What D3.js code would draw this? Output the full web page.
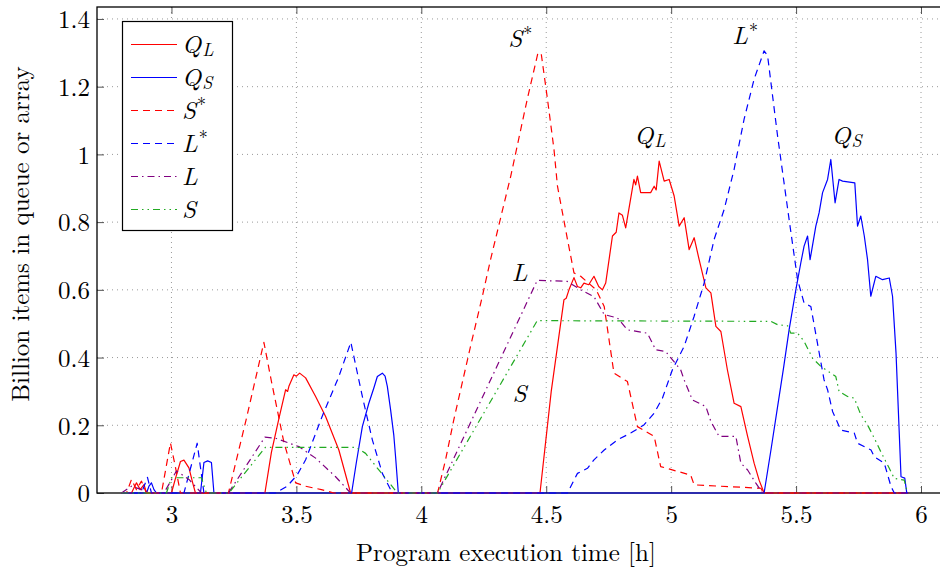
<!DOCTYPE html>
<html><head><meta charset="utf-8">
<script src="https://cdn.jsdelivr.net/npm/d3@7"></script>
</head><body style="margin:0;background:#fff">
<svg id="c" width="940" height="567" style="display:block"></svg>
<script>
// ---------------- data ----------------
const xTicks = [3, 3.5, 4, 4.5, 5, 5.5, 6];
const xTickLabels = ["3", "3.5", "4", "4.5", "5", "5.5", "6"];
const yTicks = [0, 0.2, 0.4, 0.6, 0.8, 1, 1.2, 1.4];
const yTickLabels = ["0", "0.2", "0.4", "0.6", "0.8", "1", "1.2", "1.4"];
const seriesKeys = ["QL", "QS", "Sstar", "Lstar", "L", "S"];

const QL = [[2.80,0],[2.84,0],[2.86,0.03],[2.875,0.01],[2.89,0.025],[2.90,0],[3.00,0],[3.015,0.04],[3.036,0.093],[3.05,0.097],[3.07,0.074],[3.085,0.03],[3.096,0],[3.374,0],[3.40,0.12],[3.43,0.22],[3.457,0.305],[3.465,0.30],[3.47,0.315],[3.49,0.349],[3.50,0.345],[3.513,0.354],[3.537,0.34],[3.577,0.285],[3.617,0.226],[3.67,0.127],[3.717,0],[4.475,0],[4.52,0.30],[4.571,0.571],[4.58,0.575],[4.591,0.60],[4.611,0.636],[4.625,0.61],[4.638,0.606],[4.651,0.62],[4.67,0.615],[4.691,0.64],[4.71,0.61],[4.725,0.60],[4.738,0.62],[4.765,0.759],[4.78,0.77],[4.791,0.827],[4.805,0.82],[4.818,0.783],[4.851,0.926],[4.858,0.91],[4.865,0.936],[4.878,0.887],[4.918,0.887],[4.932,0.906],[4.94,0.895],[4.952,0.98],[4.972,0.921],[4.992,0.926],[5.012,0.877],[5.032,0.788],[5.052,0.813],[5.072,0.719],[5.092,0.754],[5.112,0.689],[5.139,0.606],[5.159,0.591],[5.179,0.492],[5.199,0.477],[5.225,0.364],[5.252,0.265],[5.279,0.255],[5.306,0.167],[5.332,0.088],[5.352,0.038],[5.372,0],[5.95,0]];

const QS = [[2.80,0],[2.90,0],[2.91,0.02],[2.92,0.03],[2.93,0.01],[2.94,0],[3.116,0],[3.13,0.09],[3.145,0.095],[3.16,0.09],[3.17,0],[3.721,0],[3.74,0.09],[3.764,0.196],[3.79,0.265],[3.81,0.31],[3.824,0.344],[3.844,0.354],[3.855,0.345],[3.864,0.315],[3.877,0.246],[3.89,0.17],[3.897,0.107],[3.908,0],[5.372,0],[5.40,0.13],[5.426,0.255],[5.45,0.37],[5.472,0.482],[5.499,0.60],[5.519,0.68],[5.532,0.729],[5.546,0.759],[5.556,0.689],[5.579,0.788],[5.592,0.827],[5.606,0.887],[5.626,0.926],[5.639,0.985],[5.656,0.857],[5.672,0.926],[5.686,0.921],[5.735,0.916],[5.746,0.788],[5.759,0.818],[5.773,0.759],[5.786,0.689],[5.799,0.581],[5.819,0.64],[5.846,0.63],[5.873,0.635],[5.886,0.581],[5.90,0.413],[5.92,0.048],[5.935,0.044],[5.943,0]];

const Sstar = [[2.80,0],[2.82,0],[2.84,0.04],[2.86,0.01],[2.88,0.035],[2.90,0],[2.96,0],[2.996,0.148],[3.015,0.08],[3.036,0],[3.228,0],[3.30,0.22],[3.37,0.445],[3.40,0.33],[3.45,0.15],[3.497,0.03],[3.537,0.02],[3.60,0.01],[3.65,0],[4.065,0],[4.097,0.098],[4.13,0.216],[4.197,0.433],[4.244,0.58],[4.277,0.689],[4.358,0.936],[4.424,1.163],[4.467,1.30],[4.48,1.297],[4.505,1.163],[4.531,1.015],[4.545,0.906],[4.585,0.749],[4.611,0.65],[4.638,0.64],[4.70,0.60],[4.732,0.551],[4.771,0.354],[4.825,0.329],[4.865,0.196],[4.932,0.167],[4.958,0.078],[5.078,0.053],[5.092,0.024],[5.359,0.014],[5.37,0],[5.95,0]];

const Lstar = [[2.80,0],[2.88,0],[2.904,0.046],[2.92,0],[3.05,0],[3.103,0.147],[3.13,0],[3.416,0],[3.463,0.02],[3.503,0.053],[3.537,0.098],[3.603,0.226],[3.67,0.344],[3.718,0.445],[3.764,0.285],[3.804,0.157],[3.844,0.058],[3.884,0],[4.585,0],[4.625,0.058],[4.665,0.073],[4.691,0.098],[4.732,0.127],[4.785,0.157],[4.838,0.177],[4.891,0.201],[4.932,0.236],[4.965,0.28],[5.005,0.364],[5.052,0.433],[5.092,0.522],[5.132,0.62],[5.172,0.749],[5.212,0.837],[5.252,0.956],[5.292,1.104],[5.332,1.222],[5.372,1.306],[5.386,1.291],[5.426,1.054],[5.472,0.808],[5.506,0.63],[5.532,0.561],[5.559,0.551],[5.612,0.334],[5.626,0.305],[5.646,0.241],[5.679,0.186],[5.733,0.177],[5.746,0.147],[5.80,0.127],[5.813,0.107],[5.853,0.088],[5.88,0.019],[5.893,0],[5.95,0]];

const L = [[2.80,0],[2.84,0.02],[2.88,0.01],[2.92,0],[2.97,0],[3.02,0.065],[3.07,0.04],[3.12,0],[3.228,0],[3.374,0.165],[3.416,0.162],[3.51,0.137],[3.577,0.103],[3.657,0.048],[3.717,0],[4.065,0],[4.464,0.628],[4.584,0.625],[4.638,0.60],[4.691,0.58],[4.732,0.527],[4.785,0.517],[4.825,0.482],[4.905,0.472],[4.938,0.423],[4.978,0.418],[5.038,0.364],[5.052,0.334],[5.085,0.275],[5.139,0.255],[5.159,0.211],[5.192,0.167],[5.259,0.167],[5.279,0.088],[5.306,0.068],[5.339,0.029],[5.366,0],[5.95,0]];

const S = [[2.80,0],[2.98,0],[3.00,0.045],[3.12,0.045],[3.14,0],[3.23,0],[3.376,0.135],[3.737,0.135],[3.777,0.117],[3.83,0.068],[3.884,0.019],[3.904,0],[4.065,0],[4.464,0.509],[5.359,0.507],[5.399,0.507],[5.426,0.497],[5.466,0.494],[5.479,0.472],[5.506,0.472],[5.532,0.448],[5.566,0.398],[5.599,0.374],[5.659,0.344],[5.672,0.30],[5.706,0.285],[5.733,0.28],[5.759,0.231],[5.786,0.201],[5.813,0.162],[5.839,0.122],[5.873,0.073],[5.893,0.043],[5.933,0.038],[5.946,0]];

// ---------------- layout & styles ----------------
const FONT = '"Latin Modern Roman", "CMU Serif", "Liberation Serif", serif';
const W = 940, H = 567;
const M = {left: 97, top: 7, right: 941, bottom: 493};
const x = d3.scaleLinear().domain([2.702, 6.08]).range([M.left, M.right]);
const y = d3.scaleLinear().domain([0, 1.4353]).range([M.bottom, M.top]);

const styles = {
  QL:    {color: "#ff0000", dash: null,              label: ["Q", "L", "sub"]},
  QS:    {color: "#0000ff", dash: null,              label: ["Q", "S", "sub"]},
  Sstar: {color: "#ff0000", dash: "7,5",             label: ["S", "*", "sup"]},
  Lstar: {color: "#0000ff", dash: "7,5",             label: ["L", "*", "sup"]},
  L:     {color: "#800080", dash: "7,4,1.5,4",       label: ["L", null, null]},
  S:     {color: "#22aa22", dash: "7,4,1.5,4,1.5,4", label: ["S", null, null]}
};
const dataByKey = {QL, QS, Sstar, Lstar, L, S};

const svg = d3.select("#c");
svg.append("rect").attr("width", W).attr("height", H).attr("fill", "#fff");

// grid
const grid = svg.append("g");
grid.selectAll("line.gx").data(xTicks).join("line")
  .attr("x1", d => x(d)).attr("x2", d => x(d))
  .attr("y1", M.top).attr("y2", M.bottom)
  .attr("stroke", "#9a9a9a").attr("stroke-width", 1).attr("stroke-dasharray", "1,4");
grid.selectAll("line.gy").data(yTicks.filter(d => d > 0)).join("line")
  .attr("x1", M.left).attr("x2", M.right)
  .attr("y1", d => y(d)).attr("y2", d => y(d))
  .attr("stroke", "#9a9a9a").attr("stroke-width", 1).attr("stroke-dasharray", "1,4");

// axes (ticks inward)
const fontTick = 25;
const xAxisB = d3.axisBottom(x).tickValues(xTicks).tickFormat((d, i) => xTickLabels[i])
  .tickSizeInner(-7).tickSizeOuter(0).tickPadding(12);
const gxb = svg.append("g").attr("transform", `translate(0,${M.bottom})`).call(xAxisB);
const xAxisT = d3.axisTop(x).tickValues(xTicks).tickFormat("").tickSizeInner(-7).tickSizeOuter(0);
const gxt = svg.append("g").attr("transform", `translate(0,${M.top})`).call(xAxisT);
const yAxisL = d3.axisLeft(y).tickValues(yTicks).tickFormat((d, i) => yTickLabels[i])
  .tickSizeInner(-7).tickSizeOuter(0).tickPadding(7);
const gyl = svg.append("g").attr("transform", `translate(${M.left},0)`).call(yAxisL);
[gxb, gxt, gyl].forEach(g => {
  g.select(".domain").remove();
  g.selectAll(".tick line").attr("stroke", "#555").attr("stroke-width", 1);
  g.selectAll(".tick text").style("font-family", FONT)
    .style("font-size", fontTick + "px").attr("fill", "#000");
});
gyl.selectAll(".tick text").attr("dy", "0.35em");

// frame
svg.append("rect").attr("x", M.left).attr("y", M.top)
  .attr("width", M.right - M.left).attr("height", M.bottom - M.top)
  .attr("fill", "none").attr("stroke", "#000").attr("stroke-width", 1.3);

// clip
svg.append("clipPath").attr("id", "clip").append("rect")
  .attr("x", M.left).attr("y", M.top - 2).attr("width", M.right - M.left).attr("height", M.bottom - M.top + 4);

const line = d3.line().x(d => x(d[0])).y(d => y(d[1]));
const plots = svg.append("g").attr("clip-path", "url(#clip)");
seriesKeys.forEach(k => {
  const st = styles[k];
  plots.append("path").datum(dataByKey[k])
    .attr("d", line).attr("fill", "none")
    .attr("stroke", st.color).attr("stroke-width", 1.2)
    .attr("stroke-linejoin", "round")
    .attr("stroke-dasharray", st.dash);
});

// math label helper
function mathText(g, px, py, base, extra, kind, size, anchor) {
  const t = g.append("text").attr("x", px).attr("y", py)
    .style("font-family", FONT).style("font-size", size + "px")
    .attr("text-anchor", anchor || "start").attr("fill", "#000");
  t.append("tspan").style("font-style", "italic").text(base);
  if (extra) {
    if (kind === "sub") {
      t.append("tspan").style("font-style", "italic").style("font-size", (size * 0.72) + "px")
        .attr("dx", 1).attr("dy", size * 0.15).text(extra);
    } else {
      t.append("tspan").style("font-size", (size * 0.72) + "px").attr("dx", 1).attr("dy", -size * 0.3).text(extra);
    }
  }
  return t;
}

// in-plot labels
const annots = [
  {k: "Sstar", xv: 4.396, yv: 1.317},
  {k: "Lstar", xv: 5.296, yv: 1.325},
  {k: "QL",    xv: 4.915, yv: 1.032},
  {k: "QS",    xv: 5.702, yv: 1.032},
  {k: "L",     xv: 4.393, yv: 0.625},
  {k: "S",     xv: 4.393, yv: 0.27}
];
annots.forEach(a => {
  const st = styles[a.k];
  mathText(svg, x(a.xv), y(a.yv), st.label[0], st.label[1], st.label[2], 25, "middle");
});

// legend
const lg = svg.append("g");
lg.append("rect").attr("x", 122.5).attr("y", 21.5).attr("width", 110).attr("height", 209)
  .attr("fill", "#fff").attr("stroke", "#000").attr("stroke-width", 1.2);
seriesKeys.forEach((k, i) => {
  const st = styles[k];
  const yy = 44.5 + i * 33;
  lg.append("line").attr("x1", 131).attr("x2", 177).attr("y1", yy).attr("y2", yy)
    .attr("stroke", st.color).attr("stroke-width", 1.2).attr("stroke-dasharray", st.dash);
  mathText(lg, 182, yy + 8, st.label[0], st.label[1], st.label[2], 25, "start");
});

// axis titles
svg.append("text").attr("x", 506).attr("y", 561)
  .attr("text-anchor", "middle").style("font-family", FONT).style("font-size", "25px")
  .attr("fill", "#000").text("Program execution time [h]");
svg.append("text").attr("transform", "translate(29,234) rotate(-90)")
  .attr("text-anchor", "middle").style("font-family", FONT).style("font-size", "25px")
  .attr("fill", "#000").text("Billion items in queue or array");
</script>
</body></html>
